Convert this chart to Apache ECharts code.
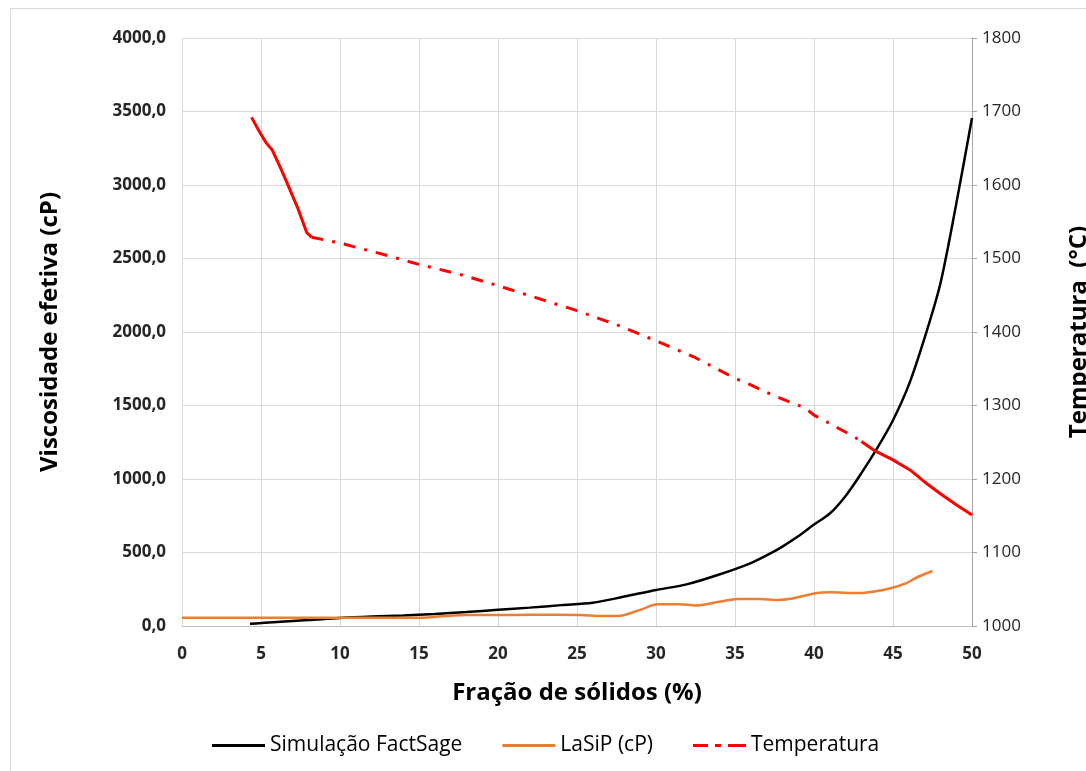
<!DOCTYPE html>
<html>
<head>
<meta charset="utf-8">
<script src="https://cdn.jsdelivr.net/npm/echarts@6/dist/echarts.min.js"></script>
<style>
html,body{margin:0;padding:0;background:#fff;overflow:hidden;}
#chart{width:1086px;height:771px;}
</style>
</head>
<body>
<div id="chart"></div>
<script>
// Simulação FactSage (cP)
const fsX = [4.3, 5, 6, 7, 8, 10, 12, 14, 16, 18, 20, 22, 24, 26, 28, 30, 32, 34, 36, 37.3, 38, 39, 40, 41, 42, 43, 44, 45, 46, 47, 48, 49, 50];
const fsY = [15, 20, 28, 34, 40, 55, 65, 72, 82, 95, 110, 125, 142, 158, 200, 245, 285, 350, 428, 497, 540, 610, 690, 765, 885, 1040, 1210, 1400, 1640, 1960, 2330, 2870, 3456];
// LaSiP (cP)
const lsX = [0, 5, 10, 15, 16, 17, 18, 20, 22, 25.2, 26.5, 27.6, 29, 30.1, 31.5, 32.5, 34, 35.2, 36.6, 37.7, 38.5, 40.2, 41, 42.8, 44, 44.9, 45.8, 46.5, 47.5];
const lsY = [56, 56, 56, 56, 62, 70, 75, 75, 76, 75, 68, 68, 110, 148, 148, 140, 165, 184, 184, 177, 185, 225, 230, 224, 238, 258, 290, 330, 374];
// Temperatura (°C)
const tX = [4.4, 4.94, 5.34, 5.7, 6.2, 6.65, 7.3, 7.9, 8.2, 10, 12.5, 15, 17.5, 20, 22.5, 25, 27.5, 30, 32.5, 35, 36, 37.5, 39.4, 40, 42.5, 43, 43.8, 45, 46.1, 47, 48, 49, 50];
const tY = [1692, 1671, 1657, 1648, 1625, 1603, 1570, 1535, 1529, 1521, 1507, 1492, 1479, 1463, 1446, 1429, 1410, 1388, 1365, 1337, 1328, 1313, 1297, 1287, 1258, 1251, 1239, 1226, 1212, 1196, 1180, 1165, 1151];
// split points for the Excel-like dash appearance (dense segments look solid)
const tDashStart = 8.2, tDashEnd = 43;
// Axis ticks
const xTicks = {min: 0, max: 50, interval: 5};
const yLeftTicks = {min: 0, max: 4000, interval: 500};
const yRightTicks = {min: 1000, max: 1800, interval: 100};

const pairs = (xs, ys) => xs.map((x, i) => [x, ys[i]]);
const tAll = pairs(tX, tY);
const tSolid1 = tAll.filter(p => p[0] <= tDashStart);
const tDash = tAll.filter(p => p[0] >= tDashStart && p[0] <= tDashEnd);
const tSolid2 = tAll.filter(p => p[0] >= tDashEnd);

const FONT = '"Open Sans", "Liberation Sans", Arial, sans-serif';
const ICON_SOLID = 'path://M0,0H53V3H0Z';
const ICON_DASHDOT = 'path://M0,0H15V3H0Z M22,0H28V3H22Z M35,0H53V3H35Z';
const chart = echarts.init(document.getElementById('chart'));
chart.setOption({
  animation: false,
  backgroundColor: '#fff',
  textStyle: {fontFamily: FONT},
  graphic: [{
    type: 'rect', left: 8, top: 6, shape: {width: 1200, height: 900},
    style: {fill: 'none', stroke: '#d9d9d9', lineWidth: 1}, silent: true, z: -10
  }],
  grid: {left: 182, right: 114, top: 38, bottom: 145, containLabel: false, outerBoundsMode: 'none'},
  legend: {
    left: 207, top: 730,
    itemWidth: 53, itemHeight: 3, itemGap: 40,
    textStyle: {fontSize: 21, color: '#000', fontFamily: FONT},
    data: [
      {name: 'Simulação FactSage', icon: ICON_SOLID},
      {name: 'LaSiP (cP)', icon: ICON_SOLID},
      {name: 'Temperatura', icon: ICON_DASHDOT}
    ]
  },
  xAxis: {
    type: 'value', min: xTicks.min, max: xTicks.max, interval: xTicks.interval,
    name: 'Fração de sólidos (%)', nameLocation: 'middle', nameGap: 55,
    nameTextStyle: {fontSize: 24, fontWeight: 'bold', color: '#000', fontFamily: FONT},
    axisLine: {show: true, lineStyle: {color: '#bfbfbf', width: 1}},
    axisTick: {show: false},
    axisLabel: {fontSize: 17, fontWeight: 'bold', color: '#262626', margin: 20, fontFamily: FONT},
    splitLine: {show: true, lineStyle: {color: '#d9d9d9', width: 1}}
  },
  yAxis: [{
    type: 'value', min: yLeftTicks.min, max: yLeftTicks.max, interval: yLeftTicks.interval,
    name: 'Viscosidade efetiva (cP)', nameLocation: 'middle', nameGap: 120, nameRotate: 90,
    nameTextStyle: {fontSize: 24, fontWeight: 'bold', color: '#000', fontFamily: FONT},
    axisLine: {show: false}, axisTick: {show: false},
    axisLabel: {fontSize: 17, fontWeight: 'bold', color: '#262626', margin: 16, fontFamily: FONT,
      formatter: v => v.toFixed(1).replace('.', ',')},
    splitLine: {show: true, lineStyle: {color: '#d9d9d9', width: 1}}
  }, {
    type: 'value', min: yRightTicks.min, max: yRightTicks.max, interval: yRightTicks.interval,
    position: 'right',
    name: 'Temperatura  (°C)', nameLocation: 'middle', nameGap: 95, nameRotate: 90,
    nameTextStyle: {fontSize: 24, fontWeight: 'bold', color: '#000', fontFamily: FONT},
    axisLine: {show: true, lineStyle: {color: '#a6a6a6', width: 1}},
    axisTick: {show: true, inside: false, length: 5, lineStyle: {color: '#a6a6a6'}},
    axisLabel: {fontSize: 17, color: '#262626', margin: 10, fontFamily: FONT,
      formatter: v => String(v)},
    splitLine: {show: false}
  }],
  series: [{
    name: 'Simulação FactSage', type: 'line', yAxisIndex: 0,
    data: pairs(fsX, fsY), showSymbol: false, symbol: 'none', smooth: 0.3,
    lineStyle: {color: '#000', width: 2.5}, itemStyle: {color: '#000'}, z: 3
  }, {
    name: 'LaSiP (cP)', type: 'line', yAxisIndex: 0,
    data: pairs(lsX, lsY), showSymbol: false, symbol: 'none', smooth: 0.3,
    lineStyle: {color: '#ED7D31', width: 2.5}, itemStyle: {color: '#ED7D31'}, z: 4
  }, {
    name: 'Temperatura', type: 'line', yAxisIndex: 1,
    data: tDash, showSymbol: false, symbol: 'none',
    lineStyle: {color: '#FF0000', width: 3, type: [12, 9, 3, 9]}, itemStyle: {color: '#FF0000'}, z: 5
  }, {
    name: 'Temperatura_solid1', type: 'line', yAxisIndex: 1,
    data: tSolid1, showSymbol: false, symbol: 'none',
    lineStyle: {color: '#FF0000', width: 3}, itemStyle: {color: '#FF0000'}, z: 5
  }, {
    name: 'Temperatura_solid2', type: 'line', yAxisIndex: 1,
    data: tSolid2, showSymbol: false, symbol: 'none',
    lineStyle: {color: '#FF0000', width: 3}, itemStyle: {color: '#FF0000'}, z: 5
  }]
});
</script>
</body>
</html>
